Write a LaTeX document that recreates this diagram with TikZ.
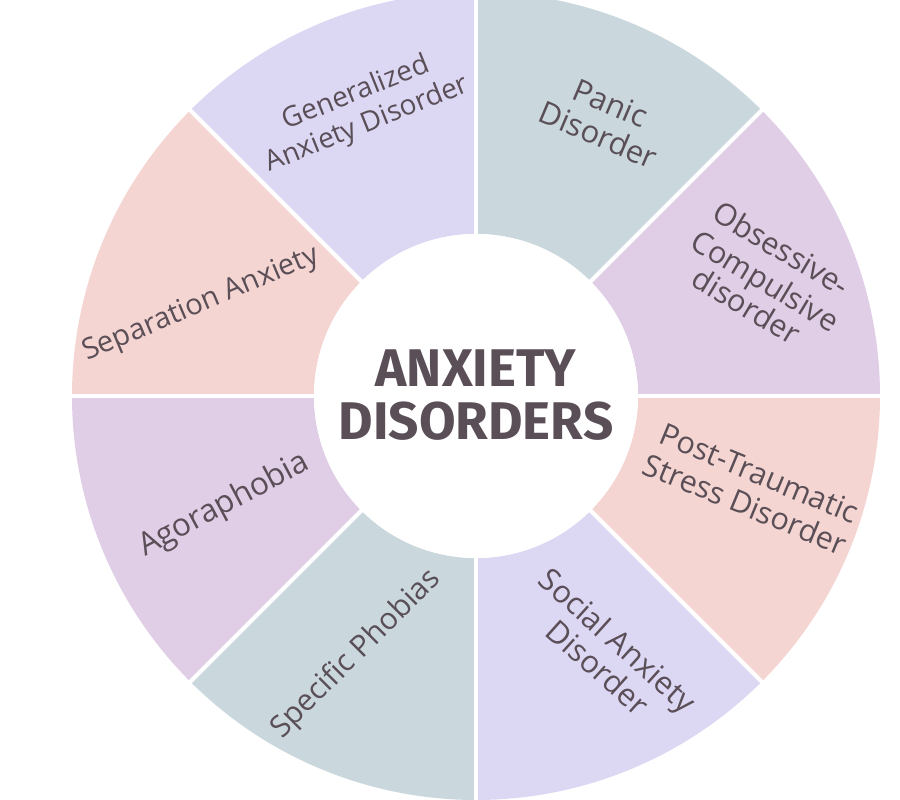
\documentclass[tikz,border=0pt]{standalone}
\usepackage{fontspec}
\setmainfont{Fira Sans}
\newfontfamily\lblfont{Open Sans}
\definecolor{cblue}{HTML}{CAD8DE}
\definecolor{clilac}{HTML}{E0CDE6}
\definecolor{cpink}{HTML}{F4D5D2}
\definecolor{clav}{HTML}{DCD8F4}
\definecolor{ctext}{HTML}{5A4E57}
\begin{document}
\begin{tikzpicture}[x=1pt,y=1pt,
  lbl/.style={text=ctext,font=\lblfont\fontsize{#1}{32}\selectfont,anchor=mid,inner sep=0pt},
  lbl/.default=30,
  ttl/.style={text=ctext,font=\fontsize{53}{53}\selectfont\bfseries,anchor=base,inner sep=0pt},
  sep/.style={draw=white,line width=4pt}]
\useasboundingbox[fill=white] (0,0) rectangle (900,800);
\begin{scope}[shift={(476,404)}]
  \foreach \a/\col in {45/cblue,0/clilac,-45/cpink,-90/clav,-135/cblue,180/clilac,135/cpink,90/clav}{
    \fill[\col] (\a:162) -- (\a:404) arc[start angle=\a,delta angle=45,radius=404]
      -- ({\a+45}:162) arc[start angle={\a+45},delta angle=-45,radius=162] -- cycle;
  }
  \foreach \a in {0,45,...,315}{
    \draw[sep] (\a:160) -- (\a:406);
  }
  \fill[white] (0,0) circle[radius=162];
\end{scope}
\node[ttl] (t1) at (476,413) {ANXIETY};
\node[ttl] (t2) at (476,360) {DISORDERS};
% Panic
\node[lbl=31,rotate=-23] (p1) at (607,689) {Panic};
\node[lbl=31,rotate=-23] (p2) at (595,657) {Disorder};
% Generalized
\node[lbl=28,rotate=22] (g1) at (358,702) {Generalized};
\node[lbl=28,rotate=22] (g2) at (369,671) {Anxiety Disorder};
% OCD
\node[lbl=30.5,rotate=-31] (o1) at (777,544) {Obsessive-};
\node[lbl=30.5,rotate=-31] (o2) at (761,512) {Compulsive};
\node[lbl=30.5,rotate=-31] (o3) at (742,487) {disorder};
% PTSD
\node[lbl=30.5,rotate=-22.5] (s1) at (756,319) {Post-Traumatic};
\node[lbl=30.5,rotate=-22.5] (s2) at (742,288) {Stress Disorder};
% Social
\node[lbl=31,rotate=-42] (so1) at (612,153) {Social Anxiety};
\node[lbl=31,rotate=-42] (so2) at (592,126) {Disorder};
% Specific
\node[lbl=30,rotate=45] (sp) at (360,142) {Specific Phobias};
% Agoraphobia
\node[lbl=31.5,rotate=28] (ag) at (227,290) {Agoraphobia};
% Separation
\node[lbl=29,rotate=23] (se) at (203,491) {Separation Anxiety};
\end{tikzpicture}
\end{document}
